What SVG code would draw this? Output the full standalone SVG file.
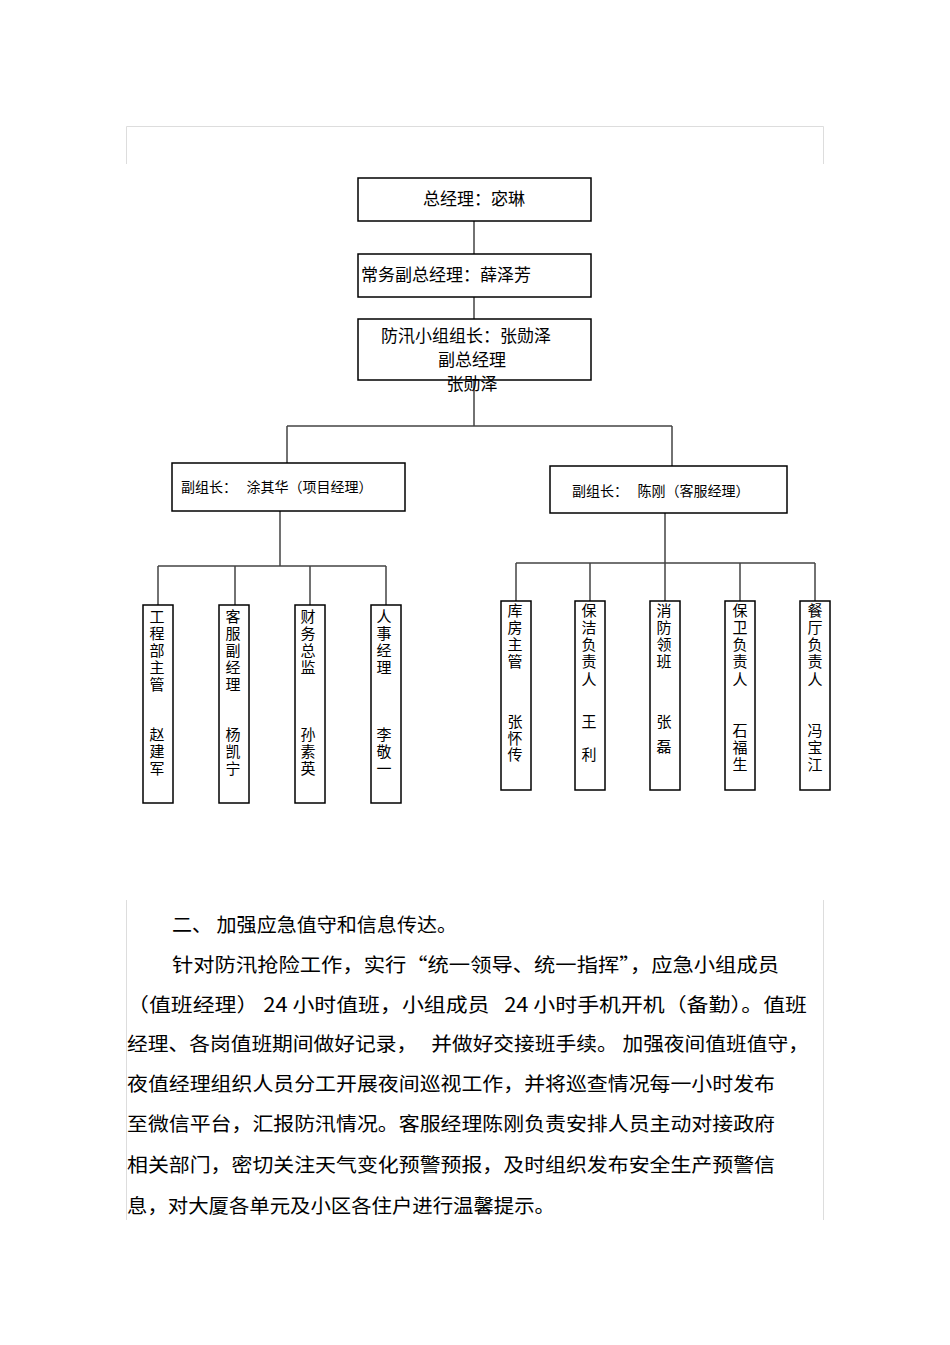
<svg xmlns="http://www.w3.org/2000/svg" width="950" height="1345" viewBox="0 0 950 1345">
<style>
.box{fill:#fff;stroke:#000;stroke-width:1.5}
.con{fill:none;stroke:#444;stroke-width:1.5}
.frame{fill:none;stroke:#ddd;stroke-width:1}
text{font-family:"Noto Sans CJK SC","Liberation Sans",sans-serif;fill:#000}
.t17{font-size:17px}
.t14{font-size:14px}
.v{font-size:15px;text-anchor:middle}
.p{font-size:19.5px}
</style>
<rect width="950" height="1345" fill="#fff"/>
<g id="frame-top">
<path class="frame" d="M126.5,164 V126.5 H823.5 V164"/>
</g>
<g id="frame-bottom">
<path class="frame" d="M126.5,900 V1220 M823.5,900 V1220"/>
</g>
<g id="connectors">
<path class="con" d="M474,221 V254 M474,297 V319 M474,380 V426 M287,426 H672 M287,426 V463 M672,426 V466"/>
<path class="con" d="M280,511 V566 M158,566 H386 M158,566 V605 M235,566 V605 M310,566 V605 M386,566 V605"/>
<path class="con" d="M665,513 V563 M516,563 H815 M516,563 V601 M590,563 V601 M665,563 V601 M740,563 V601 M815,563 V601"/>
</g>
<g id="n-gm">
<rect class="box" x="358" y="178" width="233" height="43"/>
<text class="t17" x="474" y="205" text-anchor="middle">总经理：宓琳</text>
</g>
<g id="n-evp">
<rect class="box" x="358" y="254" width="233" height="43"/>
<text class="t17" x="361" y="281">常务副总经理：薛泽芳</text>
</g>
<g id="n-leader">
<rect class="box" x="358" y="319" width="233" height="61"/>
<text class="t17" x="466" y="342" text-anchor="middle">防汛小组组长：张勋泽</text>
<text class="t17" x="472" y="366" text-anchor="middle">副总经理</text>
<text class="t17" x="472" y="390" text-anchor="middle">张勋泽</text>
</g>
<g id="n-dep1">
<rect class="box" x="172" y="463" width="233" height="48"/>
<text class="t14" x="181" y="492" xml:space="preserve">副组长：   涂其华（项目经理）</text>
</g>
<g id="n-dep2">
<rect class="box" x="550" y="466" width="237" height="47"/>
<text class="t14" x="572" y="496" xml:space="preserve">副组长：   陈刚（客服经理）</text>
</g>
<g id="n-l1">
<rect class="box" x="143" y="605" width="30" height="198"/>
<text class="v"><tspan x="157" y="622">工</tspan><tspan x="157" y="639">程</tspan><tspan x="157" y="656">部</tspan><tspan x="157" y="673">主</tspan><tspan x="157" y="690">管</tspan><tspan x="157" y="740">赵</tspan><tspan x="157" y="757">建</tspan><tspan x="157" y="774">军</tspan></text>
</g>
<g id="n-l2">
<rect class="box" x="219" y="605" width="30" height="198"/>
<text class="v"><tspan x="233" y="622">客</tspan><tspan x="233" y="639">服</tspan><tspan x="233" y="656">副</tspan><tspan x="233" y="673">经</tspan><tspan x="233" y="690">理</tspan><tspan x="233" y="740">杨</tspan><tspan x="233" y="757">凯</tspan><tspan x="233" y="774">宁</tspan></text>
</g>
<g id="n-l3">
<rect class="box" x="295" y="605" width="30" height="198"/>
<text class="v"><tspan x="308" y="622">财</tspan><tspan x="308" y="639">务</tspan><tspan x="308" y="656">总</tspan><tspan x="308" y="673">监</tspan><tspan x="308" y="740">孙</tspan><tspan x="308" y="757">素</tspan><tspan x="308" y="774">英</tspan></text>
</g>
<g id="n-l4">
<rect class="box" x="371" y="605" width="30" height="198"/>
<text class="v"><tspan x="384" y="622">人</tspan><tspan x="384" y="639">事</tspan><tspan x="384" y="656">经</tspan><tspan x="384" y="673">理</tspan><tspan x="384" y="740">李</tspan><tspan x="384" y="757">敬</tspan><tspan x="384" y="774">一</tspan></text>
</g>
<g id="n-r1">
<rect class="box" x="501" y="601" width="30" height="189"/>
<text class="v"><tspan x="515" y="616">库</tspan><tspan x="515" y="633">房</tspan><tspan x="515" y="650">主</tspan><tspan x="515" y="667">管</tspan><tspan x="515" y="727">张</tspan><tspan x="515" y="744">怀</tspan><tspan x="515" y="760">传</tspan></text>
</g>
<g id="n-r2">
<rect class="box" x="575" y="601" width="30" height="189"/>
<text class="v"><tspan x="589" y="616">保</tspan><tspan x="589" y="633">洁</tspan><tspan x="589" y="650">负</tspan><tspan x="589" y="667">责</tspan><tspan x="589" y="685">人</tspan><tspan x="589" y="727">王</tspan><tspan x="589" y="760">利</tspan></text>
</g>
<g id="n-r3">
<rect class="box" x="650" y="601" width="30" height="189"/>
<text class="v"><tspan x="664" y="616">消</tspan><tspan x="664" y="633">防</tspan><tspan x="664" y="650">领</tspan><tspan x="664" y="667">班</tspan><tspan x="664" y="727">张</tspan><tspan x="664" y="752">磊</tspan></text>
</g>
<g id="n-r4">
<rect class="box" x="725" y="601" width="30" height="189"/>
<text class="v"><tspan x="740" y="616">保</tspan><tspan x="740" y="633">卫</tspan><tspan x="740" y="650">负</tspan><tspan x="740" y="667">责</tspan><tspan x="740" y="685">人</tspan><tspan x="740" y="736">石</tspan><tspan x="740" y="753">福</tspan><tspan x="740" y="770">生</tspan></text>
</g>
<g id="n-r5">
<rect class="box" x="800" y="601" width="30" height="189"/>
<text class="v"><tspan x="815" y="616">餐</tspan><tspan x="815" y="633">厅</tspan><tspan x="815" y="650">负</tspan><tspan x="815" y="667">责</tspan><tspan x="815" y="685">人</tspan><tspan x="815" y="736">冯</tspan><tspan x="815" y="753">宝</tspan><tspan x="815" y="770">江</tspan></text>
</g>
<g id="paragraph">
<text class="p" x="172" y="932" textLength="285" lengthAdjust="spacingAndGlyphs" xml:space="preserve">二、 加强应急值守和信息传达。</text>
<text class="p" x="172" y="972" textLength="607" lengthAdjust="spacingAndGlyphs">针对防汛抢险工作，实行“统一领导、统一指挥”，应急小组成员</text>
<text class="p" x="127" y="1012" textLength="680" lengthAdjust="spacingAndGlyphs" xml:space="preserve">（值班经理） 24 小时值班，小组成员   24 小时手机开机（备勤）。值班</text>
<text class="p" x="127" y="1051" textLength="682" lengthAdjust="spacingAndGlyphs" xml:space="preserve">经理、各岗值班期间做好记录，   并做好交接班手续。 加强夜间值班值守，</text>
<text class="p" x="127" y="1091" textLength="648" lengthAdjust="spacingAndGlyphs">夜值经理组织人员分工开展夜间巡视工作，并将巡查情况每一小时发布</text>
<text class="p" x="127" y="1131" textLength="648" lengthAdjust="spacingAndGlyphs">至微信平台，汇报防汛情况。客服经理陈刚负责安排人员主动对接政府</text>
<text class="p" x="127" y="1172" textLength="648" lengthAdjust="spacingAndGlyphs">相关部门，密切关注天气变化预警预报，及时组织发布安全生产预警信</text>
<text class="p" x="127" y="1213" textLength="428" lengthAdjust="spacingAndGlyphs">息，对大厦各单元及小区各住户进行温馨提示。</text>
</g>
</svg>
